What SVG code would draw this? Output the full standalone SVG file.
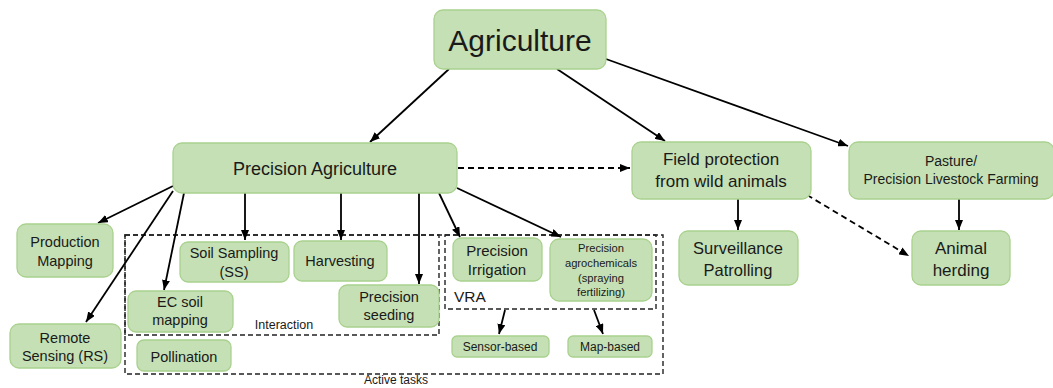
<svg xmlns="http://www.w3.org/2000/svg" width="1053" height="388" viewBox="0 0 1053 388">
<style>
.n{fill:#c5e0b4;stroke:#a9d18e;stroke-width:1.3}
text{font-family:"Liberation Sans",Arial,sans-serif;fill:#1a1a1a;text-anchor:middle}
.c{stroke:#000;stroke-width:1.8;fill:none;marker-end:url(#ah)}
.d{stroke-dasharray:6 4}
.g{fill:none;stroke:#222;stroke-width:1.4;stroke-dasharray:5 3}
</style>
<defs>
<marker id="ah" markerUnits="userSpaceOnUse" markerWidth="10" markerHeight="8" refX="10" refY="4" orient="auto">
<path d="M0,0 L10,4 L0,8 z" fill="#000"/>
</marker>
</defs>
<rect width="1053" height="388" fill="#fff"/>
<g id="groups">
<rect class="g" x="125" y="235" width="538" height="139"/>
<rect class="g" x="125" y="235" width="314" height="100"/>
<rect class="g" x="445" y="235" width="211" height="74"/>
<text x="284" y="329" font-size="12.5">Interaction</text>
<text x="396" y="384" font-size="12">Active tasks</text>
<text x="454" y="302" font-size="15.5" style="text-anchor:start">VRA</text>
</g>
<g id="connectors">
<line class="c" x1="449" y1="69" x2="370" y2="142"/>
<line class="c" x1="557" y1="69" x2="665" y2="141"/>
<line class="c" x1="606" y1="59" x2="848" y2="146"/>
<line class="c d" x1="458" y1="168" x2="630" y2="168"/>
<line class="c" x1="173" y1="186" x2="98" y2="223"/>
<line class="c" x1="173" y1="191" x2="86" y2="322"/>
<line class="c" x1="184" y1="193" x2="164" y2="290"/>
<line class="c" x1="245" y1="193" x2="245" y2="240"/>
<line class="c" x1="341" y1="193" x2="341" y2="240"/>
<line class="c" x1="419" y1="193" x2="419" y2="284"/>
<line class="c" x1="439" y1="193" x2="460" y2="237"/>
<line class="c" x1="457" y1="188" x2="561" y2="237"/>
<line class="c" x1="738" y1="199" x2="738" y2="230"/>
<line class="c d" x1="807" y1="195" x2="909" y2="256"/>
<line class="c" x1="959" y1="199" x2="959" y2="230"/>
<line class="c" x1="505" y1="310" x2="499" y2="334"/>
<line class="c" x1="594" y1="310" x2="603" y2="334"/>
</g>
<g id="agriculture"><rect class="n" x="434" y="10" width="172" height="59" rx="9"/><text x="520" y="51" font-size="30">Agriculture</text></g>
<g id="precision-agriculture"><rect class="n" x="173" y="143" width="284" height="50" rx="9"/><text x="315" y="175" font-size="18">Precision Agriculture</text></g>
<g id="field-protection"><rect class="n" x="632" y="142" width="179" height="57" rx="9"/><text x="721" y="165" font-size="17">Field protection</text><text x="721" y="187" font-size="17">from wild animals</text></g>
<g id="pasture"><rect class="n" x="849" y="142" width="205" height="57" rx="9"/><text x="951" y="166" font-size="14">Pasture/</text><text x="951" y="184" font-size="14">Precision Livestock Farming</text></g>
<g id="surveillance"><rect class="n" x="679" y="231" width="119" height="54" rx="9"/><text x="738" y="254" font-size="16.5">Surveillance</text><text x="738" y="276" font-size="16.5">Patrolling</text></g>
<g id="animal-herding"><rect class="n" x="912" y="231" width="98" height="54" rx="9"/><text x="961" y="254" font-size="17">Animal</text><text x="961" y="276" font-size="17">herding</text></g>
<g id="production-mapping"><rect class="n" x="17" y="224" width="96" height="53" rx="9"/><text x="65" y="247" font-size="14.5">Production</text><text x="65" y="266" font-size="14.5">Mapping</text></g>
<g id="remote-sensing"><rect class="n" x="10" y="324" width="111" height="44" rx="9"/><text x="65" y="343" font-size="14.5">Remote</text><text x="65" y="361" font-size="14.5">Sensing (RS)</text></g>
<g id="soil-sampling"><rect class="n" x="180" y="242" width="109" height="40" rx="8"/><text x="234" y="258" font-size="14.5">Soil Sampling</text><text x="234" y="277" font-size="14.5">(SS)</text></g>
<g id="harvesting"><rect class="n" x="294" y="241" width="93" height="40" rx="8"/><text x="340" y="266" font-size="14.5">Harvesting</text></g>
<g id="ec-soil"><rect class="n" x="128" y="291" width="105" height="41" rx="8"/><text x="180" y="307" font-size="14.5">EC soil</text><text x="180" y="325" font-size="14.5">mapping</text></g>
<g id="precision-seeding"><rect class="n" x="339" y="285" width="100" height="42" rx="8"/><text x="389" y="302" font-size="14.5">Precision</text><text x="389" y="320" font-size="14.5">seeding</text></g>
<g id="pollination"><rect class="n" x="137" y="340" width="94" height="31" rx="7"/><text x="184" y="362" font-size="14.5">Pollination</text></g>
<g id="precision-irrigation"><rect class="n" x="453" y="238" width="89" height="43" rx="8"/><text x="497" y="256" font-size="15">Precision</text><text x="497" y="275" font-size="15">Irrigation</text></g>
<g id="precision-agrochemicals"><rect class="n" x="550" y="239" width="102" height="62" rx="9"/><text x="601" y="252" font-size="11.2">Precision</text><text x="601" y="267" font-size="11.2">agrochemicals</text><text x="601" y="282" font-size="11.2">(spraying</text><text x="601" y="296" font-size="11.2">fertilizing)</text></g>
<g id="sensor-based"><rect class="n" x="452" y="336" width="97" height="21" rx="5"/><text x="500" y="351" font-size="12">Sensor-based</text></g>
<g id="map-based"><rect class="n" x="568" y="336" width="84" height="21" rx="5"/><text x="610" y="351" font-size="12">Map-based</text></g>
</svg>
